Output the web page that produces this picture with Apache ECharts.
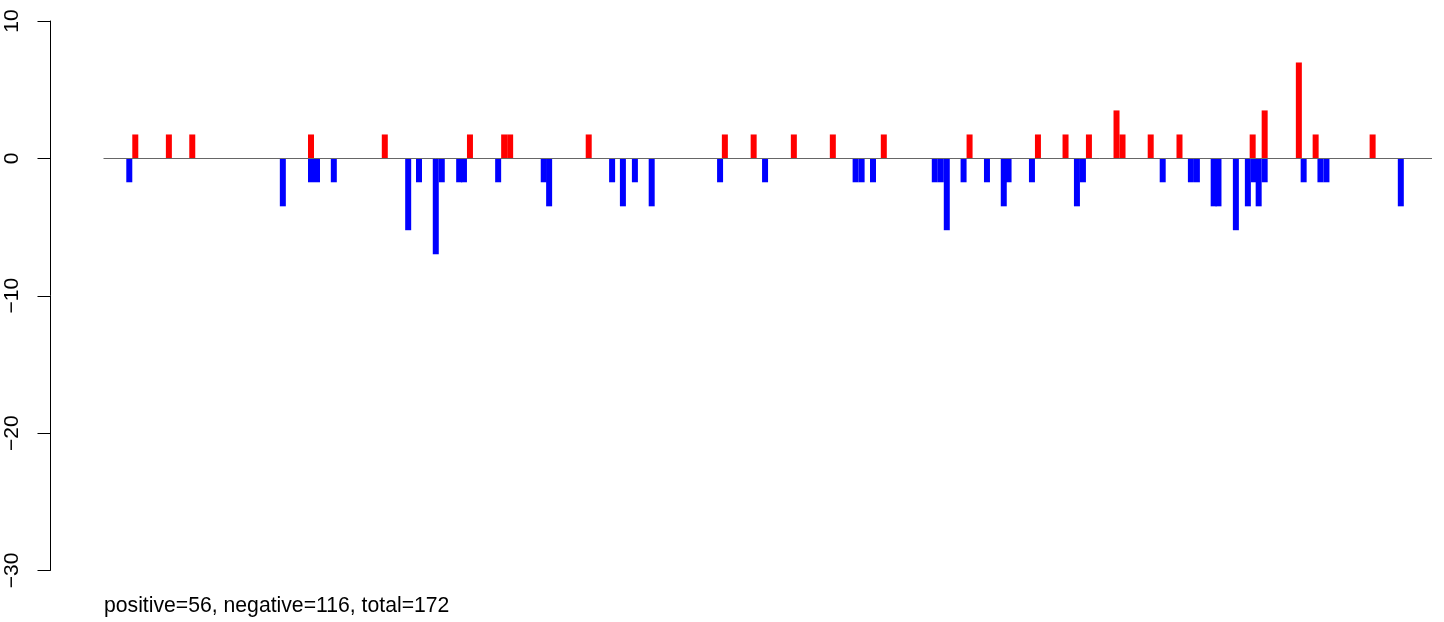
<!DOCTYPE html>
<html>
<head>
<meta charset="utf-8">
<script src="https://cdn.jsdelivr.net/npm/echarts@6/dist/echarts.min.js"></script>
<style>
html,body{margin:0;padding:0;background:#fff;}
#chart{width:1444px;height:622px;}
</style>
</head>
<body>
<div id="chart"></div>
<script>
// Positions (arbitrary position units along the track) and values
var posX = [5.3,10.9,14.8,34.6,46.9,61.1,66.8,67.8,80.9,103.6,108.4,115.1,121.6,130.1,144.4,155.8,160.4,164.3,168.9,169.9,174.6,179.4,191.6,193.6,199.3,202.1,211.6];
var posY = [1.74,1.74,1.74,1.74,1.74,1.74,1.74,1.74,1.74,1.74,1.74,1.74,1.74,1.74,1.74,1.74,1.74,1.74,3.49,1.74,1.74,1.74,1.74,3.49,6.98,1.74,1.74];
var negX = [4.3,29.9,34.6,35.6,38.4,50.8,52.6,55.4,56.4,59.3,60.1,65.8,73.4,74.3,84.8,86.6,88.6,91.4,102.8,110.3,125.4,126.4,128.3,138.6,139.6,140.6,143.4,147.3,150.1,150.9,154.8,162.3,163.3,176.6,181.3,182.3,185.1,185.9,188.8,190.8,191.8,192.6,193.6,200.1,202.9,203.9,216.3];
var negY = [-1.74,-3.49,-1.74,-1.74,-1.74,-5.23,-1.74,-6.98,-1.74,-1.74,-1.74,-1.74,-1.74,-3.49,-1.74,-3.49,-1.74,-3.49,-1.74,-1.74,-1.74,-1.74,-1.74,-1.74,-1.74,-5.23,-1.74,-1.74,-3.49,-1.74,-1.74,-3.49,-1.74,-1.74,-1.74,-1.74,-3.49,-3.49,-5.23,-3.49,-1.74,-3.49,-1.74,-1.74,-1.74,-1.74,-3.49];
var yTicks = [-30,-20,-10,0,10];
var xRange = [0, 221.5];
var caption = 'positive=56, negative=116, total=172';

function pairs(xs, ys){ return xs.map(function(x,i){ return [x, ys[i]]; }); }

var FONT = '"Liberation Sans", Arial, Helvetica, sans-serif';
var chart = echarts.init(document.getElementById('chart'), null, {renderer:'canvas'});
chart.setOption({
  animation: false,
  backgroundColor: '#ffffff',
  title: {
    text: caption,
    left: 104, top: 596, padding: 0,
    textStyle: {fontFamily: FONT, fontSize: 21.2, fontWeight: 'normal', color: '#000'}
  },
  grid: {left: 103.5, right: 12, top: 21, bottom: 51.5, containLabel: false},
  xAxis: {type: 'value', min: xRange[0], max: xRange[1], show: false},
  yAxis: {
    type: 'value', min: yTicks[0], max: yTicks[yTicks.length-1], interval: 10,
    offset: 53.5,
    axisLine: {show: true, onZero: false, lineStyle: {color: '#000', width: 1}},
    axisTick: {show: true, length: 12.5, lineStyle: {color: '#000', width: 1}},
    splitLine: {show: false},
    axisLabel: {
      rotate: 90, margin: 27, color: '#000', fontFamily: FONT, fontSize: 21,
      formatter: function(v){ return String(v).replace('-', '\u2212'); }
    }
  },
  series: [
    {
      type: 'bar', name: 'negative', data: pairs(negX, negY),
      barWidth: 6, barGap: '-100%',
      itemStyle: {color: '#0000ff'},
      z: 2
    },
    {
      type: 'bar', name: 'positive', data: pairs(posX, posY),
      barWidth: 6, barGap: '-100%',
      itemStyle: {color: '#ff0000'},
      z: 3,
      markLine: {
        silent: true, symbol: 'none', z: 10,
        label: {show: false},
        lineStyle: {color: '#666666', width: 1, type: 'solid'},
        data: [{yAxis: 0}]
      }
    }
  ]
});
</script>
</body>
</html>
